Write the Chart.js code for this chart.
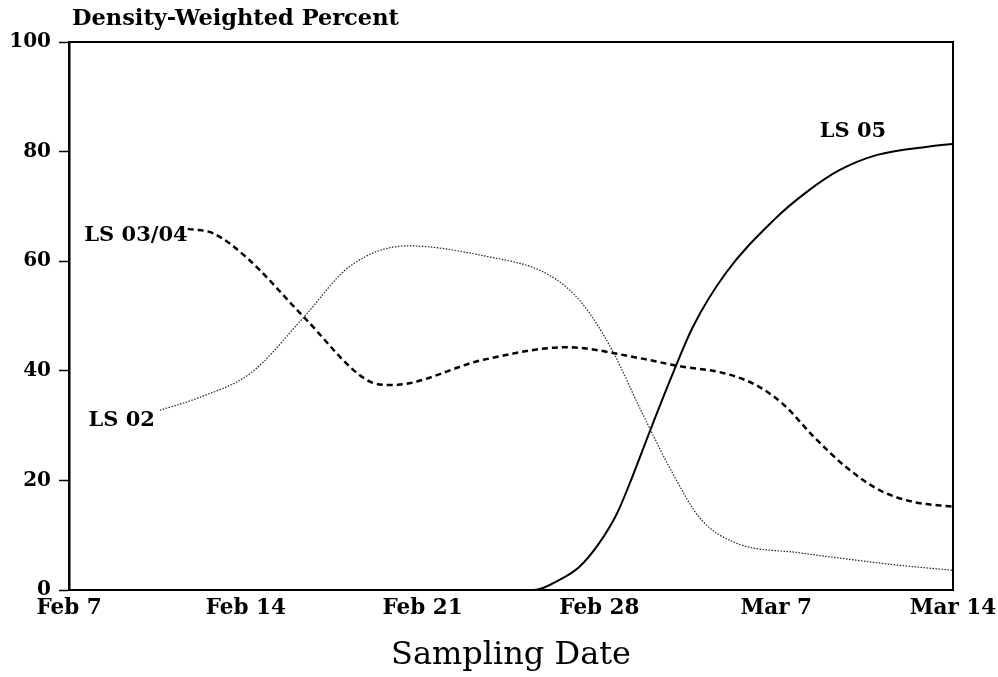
<!DOCTYPE html>
<html>
<head>
<title>Density-Weighted Percent</title>
<script src="https://cdn.jsdelivr.net/npm/chart.js@4.4.0/dist/chart.umd.min.js"></script>
<style>
  body { margin: 0; background: #fff; }
</style>
</head>
<body>
<canvas id="myChart" width="998" height="677"></canvas>
<script>
// x values are days after Feb 7
const tickDays = [0, 7, 14, 21, 28, 35];
const tickLabels = ['Feb 7', 'Feb 14', 'Feb 21', 'Feb 28', 'Mar 7', 'Mar 14'];

const ls02Days   = [3.6, 5.2, 7.2, 9.3, 11.1, 13.4, 16.4, 19.0, 20.3, 21.5, 22.6, 23.9, 25.0, 26.4, 28.9, 30.9, 32.9, 35];
const ls02Values = [32.8, 35.2, 39.6, 49.8, 59.0, 62.8, 61.0, 57.5, 52.4, 43.8, 33.2, 21.3, 13.0, 8.6, 6.8, 5.6, 4.5, 3.6];

const ls0304Days   = [4.7, 5.7, 7.0, 9.3, 11.8, 12.8, 16.4, 19.7, 22.6, 24.1, 25.9, 27.2, 28.3, 29.5, 30.8, 32.1, 33.4, 35];
const ls0304Values = [65.9, 65.1, 60.8, 49.8, 38.3, 37.4, 42.0, 44.3, 42.3, 40.9, 39.6, 37.4, 33.8, 27.9, 22.3, 18.2, 16.1, 15.2];

const ls05Days   = [0, 18.4, 19.4, 20.2, 21.0, 21.7, 22.3, 23.0, 23.8, 24.7, 26.0, 27.9, 29.2, 30.5, 32.0, 34.0, 35];
const ls05Values = [0, 0, 1.8, 4.2, 8.6, 14.0, 20.6, 29.0, 38.3, 48.0, 57.8, 67.5, 72.6, 76.6, 79.4, 80.9, 81.4];

const seriesNames = ['LS 02', 'LS 03/04', 'LS 05'];

function toPoints(days, values) {
    return days.map((d, i) => ({ x: d, y: values[i] }));
}

const serif = "'DejaVu Serif', serif";

// draws the frame, the y title and the curve labels
const extras = {
    id: 'extras',
    afterDraw(chart) {
        const ctx = chart.ctx;
        const a = chart.chartArea;
        const xs = chart.scales.x, ys = chart.scales.y;
        ctx.save();
        ctx.strokeStyle = '#000';
        ctx.lineWidth = 2;
        ctx.strokeRect(a.left, a.top, a.right - a.left, a.bottom - a.top);

        ctx.fillStyle = '#000';
        ctx.font = 'bold 22.5px ' + serif;
        ctx.textAlign = 'left';
        ctx.textBaseline = 'middle';
        ctx.fillText('Density-Weighted Percent', a.left + 3, a.top - 23);

        ctx.font = 'bold 21px ' + serif;
        // LS 02 at start of its curve
        ctx.textAlign = 'right';
        ctx.fillText(seriesNames[0], xs.getPixelForValue(ls02Days[0]) - 5, ys.getPixelForValue(ls02Values[0]) + 10);
        // LS 03/04 at start of its curve
        ctx.fillText(seriesNames[1], xs.getPixelForValue(ls0304Days[0]), ys.getPixelForValue(ls0304Values[0]) + 7);
        // LS 05 above end of its curve
        const n = ls05Days.length - 1;
        ctx.textAlign = 'center';
        ctx.fillText(seriesNames[2], xs.getPixelForValue(ls05Days[n]) - 100, ys.getPixelForValue(ls05Values[n]) - 12);
        ctx.restore();
    }
};

const ctx = document.getElementById('myChart');
const myChart = new Chart(ctx, {
    type: 'line',
    data: {
        datasets: [
            {
                label: seriesNames[0],
                data: toPoints(ls02Days, ls02Values),
                borderColor: '#222',
                borderWidth: 1.2,
                borderDash: [1.5, 1.5],
                pointRadius: 0,
                cubicInterpolationMode: 'monotone'
            },
            {
                label: seriesNames[1],
                data: toPoints(ls0304Days, ls0304Values),
                borderColor: '#000',
                borderWidth: 2.5,
                borderDash: [6, 4],
                pointRadius: 0,
                cubicInterpolationMode: 'monotone'
            },
            {
                label: seriesNames[2],
                data: toPoints(ls05Days, ls05Values),
                borderColor: '#000',
                borderWidth: 2,
                pointRadius: 0,
                cubicInterpolationMode: 'monotone'
            }
        ]
    },
    options: {
        responsive: false,
        animation: false,
        layout: { padding: { top: 42, right: 45, left: 0, bottom: 0 } },
        plugins: {
            legend: { display: false },
            tooltip: { enabled: false }
        },
        scales: {
            x: {
                type: 'linear',
                min: 0,
                max: 35,
                afterBuildTicks: (scale) => { scale.ticks = tickDays.map(v => ({ value: v })); },
                afterFit: (scale) => {
                    scale.height = 87;
                    scale.paddingLeft = 0;
                    scale.paddingRight = 0;
                },
                ticks: {
                    autoSkip: false,
                    maxRotation: 0,
                    padding: 6,
                    color: '#000',
                    font: { family: serif, size: 21.5, weight: 'bold' },
                    callback: (v) => tickLabels[tickDays.indexOf(v)]
                },
                grid: { drawOnChartArea: false, drawTicks: false },
                border: { color: '#000', width: 2 },
                title: {
                    display: true,
                    text: 'Sampling Date',
                    color: '#000',
                    font: { family: serif, size: 32 },
                    padding: { top: 0, bottom: 2 }
                }
            },
            y: {
                min: 0,
                max: 100,
                afterFit: (scale) => { scale.width = 69; },
                ticks: {
                    stepSize: 20,
                    padding: 8,
                    color: '#000',
                    font: { family: serif, size: 20, weight: 'bold' }
                },
                grid: { drawOnChartArea: false, tickLength: 10, color: '#000', tickWidth: 1.5 },
                border: { color: '#000', width: 2.5 }
            }
        }
    },
    plugins: [extras]
});
</script>
</body>
</html>
